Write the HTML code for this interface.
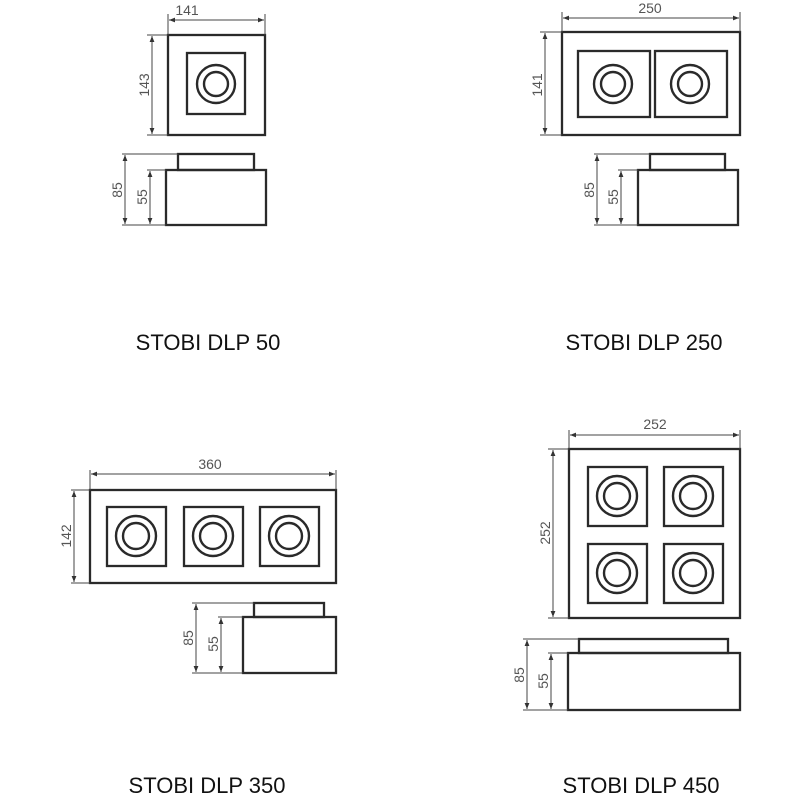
<!DOCTYPE html>
<html><head><meta charset="utf-8"><style>
html,body{margin:0;padding:0;background:#fff;width:800px;height:800px;overflow:hidden}
svg{display:block}
.s{fill:none;stroke:#2a2a2a;stroke-width:2.3}
.d{fill:none;stroke:#444;stroke-width:1}
.c{fill:none;stroke:#2a2a2a;stroke-width:2.4}
.t{font-family:"Liberation Sans",sans-serif;font-size:14px;fill:#555;text-anchor:middle}
.h{font-family:"Liberation Sans",sans-serif;font-size:22px;fill:#111;text-anchor:middle}
</style></head><body>
<svg width="800" height="800" viewBox="0 0 800 800" xmlns="http://www.w3.org/2000/svg">
<defs>
<marker id="a" viewBox="0 0 10 10" refX="10" refY="5" markerWidth="8" markerHeight="6" orient="auto-start-reverse"><path d="M0,1 L10,5 L0,9 z" fill="#333"/></marker>
</defs>

<!-- DLP 50 -->
<rect class="s" x="168" y="35" width="97" height="100"/>
<rect class="s" x="187" y="53" width="58" height="61"/>
<circle class="c" cx="216" cy="84" r="19"/><circle class="c" cx="216" cy="84" r="12"/>
<line class="d" x1="168" y1="14" x2="168" y2="35"/><line class="d" x1="265" y1="14" x2="265" y2="35"/>
<line class="d" x1="169" y1="20" x2="264" y2="20" marker-start="url(#a)" marker-end="url(#a)"/>
<text class="t" x="187" y="15">141</text>
<line class="d" x1="147" y1="35" x2="168" y2="35"/><line class="d" x1="147" y1="135" x2="168" y2="135"/>
<line class="d" x1="152" y1="36" x2="152" y2="134" marker-start="url(#a)" marker-end="url(#a)"/>
<text class="t" transform="translate(149,85) rotate(-90)">143</text>
<rect class="s" x="178" y="154" width="76" height="16"/>
<rect class="s" x="166" y="170" width="100" height="55"/>
<line class="d" x1="122" y1="154" x2="178" y2="154"/><line class="d" x1="122" y1="225" x2="166" y2="225"/>
<line class="d" x1="147" y1="170" x2="166" y2="170"/>
<line class="d" x1="125" y1="155" x2="125" y2="224" marker-start="url(#a)" marker-end="url(#a)"/>
<line class="d" x1="150" y1="171" x2="150" y2="224" marker-start="url(#a)" marker-end="url(#a)"/>
<text class="t" transform="translate(122,190) rotate(-90)">85</text>
<text class="t" transform="translate(147,197) rotate(-90)">55</text>
<text class="h" x="208" y="350">STOBI DLP 50</text>

<!-- DLP 250 -->
<rect class="s" x="562" y="32" width="178" height="103"/>
<rect class="s" x="578" y="51" width="72" height="66"/>
<rect class="s" x="655" y="51" width="72" height="66"/>
<circle class="c" cx="613" cy="84" r="19"/><circle class="c" cx="613" cy="84" r="12"/>
<circle class="c" cx="690" cy="84" r="19"/><circle class="c" cx="690" cy="84" r="12"/>
<line class="d" x1="562" y1="12" x2="562" y2="32"/><line class="d" x1="740" y1="12" x2="740" y2="32"/>
<line class="d" x1="563" y1="18" x2="739" y2="18" marker-start="url(#a)" marker-end="url(#a)"/>
<text class="t" x="650" y="13">250</text>
<line class="d" x1="540" y1="32" x2="562" y2="32"/><line class="d" x1="540" y1="135" x2="562" y2="135"/>
<line class="d" x1="545" y1="33" x2="545" y2="134" marker-start="url(#a)" marker-end="url(#a)"/>
<text class="t" transform="translate(542,85) rotate(-90)">141</text>
<rect class="s" x="650" y="154" width="75" height="16"/>
<rect class="s" x="638" y="170" width="100" height="55"/>
<line class="d" x1="594" y1="154" x2="650" y2="154"/><line class="d" x1="594" y1="225" x2="638" y2="225"/>
<line class="d" x1="618" y1="170" x2="638" y2="170"/>
<line class="d" x1="597" y1="155" x2="597" y2="224" marker-start="url(#a)" marker-end="url(#a)"/>
<line class="d" x1="621" y1="171" x2="621" y2="224" marker-start="url(#a)" marker-end="url(#a)"/>
<text class="t" transform="translate(594,190) rotate(-90)">85</text>
<text class="t" transform="translate(618,197) rotate(-90)">55</text>
<text class="h" x="644" y="350">STOBI DLP 250</text>

<!-- DLP 350 -->
<rect class="s" x="90" y="490" width="246" height="93"/>
<rect class="s" x="107" y="507" width="59" height="59"/>
<rect class="s" x="184" y="507" width="59" height="59"/>
<rect class="s" x="260" y="507" width="59" height="59"/>
<circle class="c" cx="136" cy="536" r="20"/><circle class="c" cx="136" cy="536" r="13"/>
<circle class="c" cx="213" cy="536" r="20"/><circle class="c" cx="213" cy="536" r="13"/>
<circle class="c" cx="289" cy="536" r="20"/><circle class="c" cx="289" cy="536" r="13"/>
<line class="d" x1="90" y1="470" x2="90" y2="490"/><line class="d" x1="336" y1="470" x2="336" y2="490"/>
<line class="d" x1="91" y1="474" x2="335" y2="474" marker-start="url(#a)" marker-end="url(#a)"/>
<text class="t" x="210" y="469">360</text>
<line class="d" x1="71" y1="490" x2="90" y2="490"/><line class="d" x1="71" y1="583" x2="90" y2="583"/>
<line class="d" x1="74" y1="491" x2="74" y2="582" marker-start="url(#a)" marker-end="url(#a)"/>
<text class="t" transform="translate(71,536) rotate(-90)">142</text>
<rect class="s" x="254" y="603" width="70" height="14"/>
<rect class="s" x="243" y="617" width="93" height="56"/>
<line class="d" x1="192" y1="603" x2="254" y2="603"/><line class="d" x1="192" y1="673" x2="243" y2="673"/>
<line class="d" x1="218" y1="617" x2="243" y2="617"/>
<line class="d" x1="196" y1="604" x2="196" y2="672" marker-start="url(#a)" marker-end="url(#a)"/>
<line class="d" x1="221" y1="618" x2="221" y2="672" marker-start="url(#a)" marker-end="url(#a)"/>
<text class="t" transform="translate(193,638) rotate(-90)">85</text>
<text class="t" transform="translate(218,644) rotate(-90)">55</text>
<text class="h" x="207" y="793">STOBI DLP 350</text>

<!-- DLP 450 -->
<rect class="s" x="569" y="449" width="171" height="169"/>
<rect class="s" x="588" y="467" width="59" height="59"/>
<rect class="s" x="664" y="467" width="59" height="59"/>
<rect class="s" x="588" y="544" width="59" height="59"/>
<rect class="s" x="664" y="544" width="59" height="59"/>
<circle class="c" cx="617" cy="496" r="20"/><circle class="c" cx="617" cy="496" r="13"/>
<circle class="c" cx="693" cy="496" r="20"/><circle class="c" cx="693" cy="496" r="13"/>
<circle class="c" cx="617" cy="573" r="20"/><circle class="c" cx="617" cy="573" r="13"/>
<circle class="c" cx="693" cy="573" r="20"/><circle class="c" cx="693" cy="573" r="13"/>
<line class="d" x1="569" y1="430" x2="569" y2="449"/><line class="d" x1="740" y1="430" x2="740" y2="449"/>
<line class="d" x1="570" y1="435" x2="739" y2="435" marker-start="url(#a)" marker-end="url(#a)"/>
<text class="t" x="655" y="429">252</text>
<line class="d" x1="548" y1="449" x2="569" y2="449"/><line class="d" x1="548" y1="618" x2="569" y2="618"/>
<line class="d" x1="553" y1="450" x2="553" y2="617" marker-start="url(#a)" marker-end="url(#a)"/>
<text class="t" transform="translate(550,533) rotate(-90)">252</text>
<rect class="s" x="579" y="639" width="149" height="14"/>
<rect class="s" x="568" y="653" width="172" height="57"/>
<line class="d" x1="523" y1="639" x2="579" y2="639"/><line class="d" x1="523" y1="710" x2="568" y2="710"/>
<line class="d" x1="548" y1="653" x2="568" y2="653"/>
<line class="d" x1="527" y1="640" x2="527" y2="709" marker-start="url(#a)" marker-end="url(#a)"/>
<line class="d" x1="551" y1="654" x2="551" y2="709" marker-start="url(#a)" marker-end="url(#a)"/>
<text class="t" transform="translate(524,675) rotate(-90)">85</text>
<text class="t" transform="translate(548,681) rotate(-90)">55</text>
<text class="h" x="641" y="793">STOBI DLP 450</text>
</svg>
</body></html>
